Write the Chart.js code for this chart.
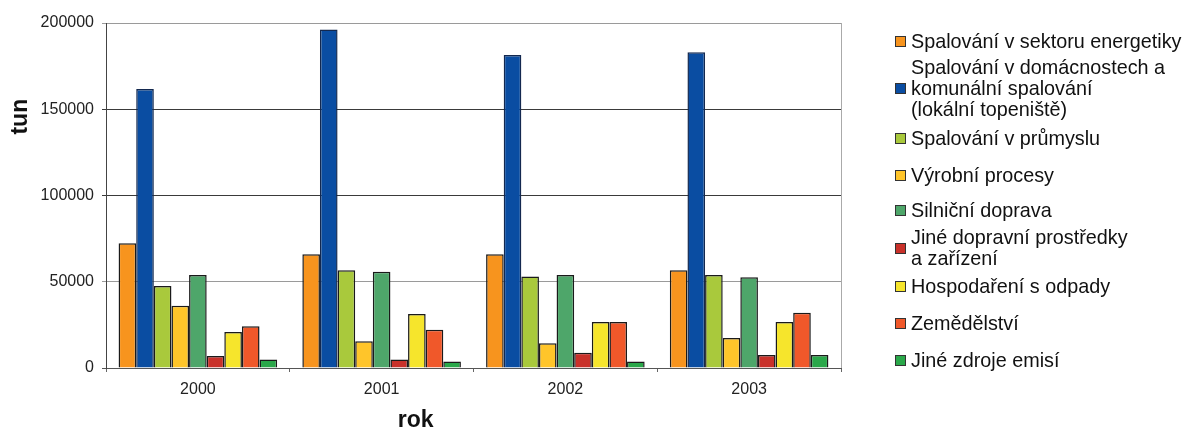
<!DOCTYPE html>
<html>
<head>
<meta charset="utf-8">
<script src="https://cdn.jsdelivr.net/npm/chart.js@4.4.0/dist/chart.umd.min.js"></script>
<style>
  html, body { margin: 0; padding: 0; background: #fff; }
  #wrap { position: relative; width: 1190px; height: 430px; }
  #c { position: absolute; left: 0; top: 0; }
  .lg { position: absolute; left: 895px; display: flex; align-items: center;
        font-family: "Liberation Sans", Arial, sans-serif; font-size: 19.8px; line-height: 21px; color: #111; white-space: nowrap; }
  .lg .sw { width: 9px; height: 9px; border: 1px solid #333; margin-right: 5px; flex: none; }
</style>
</head>
<body>
<div id="wrap">
  <canvas id="c" width="1190" height="430"></canvas>
</div>
<script>
const categories = ['2000', '2001', '2002', '2003'];
const seriesNames = [
  'Spalování v sektoru energetiky',
  'Spalování v domácnostech a\nkomunální spalování\n(lokální topeniště)',
  'Spalování v průmyslu',
  'Výrobní procesy',
  'Silniční doprava',
  'Jiné dopravní prostředky\na zařízení',
  'Hospodaření s odpady',
  'Zemědělství',
  'Jiné zdroje emisí'
];
const energetika   = [72300, 65900, 65900, 56600];
const domacnosti   = [161700, 196300, 181400, 183000];
const prumysl      = [47500, 56600, 53100, 53900];
const vyroba       = [36100, 15500, 14300, 17400];
const doprava      = [53900, 55800, 53900, 52600];
const jinaDoprava  = [7000, 5000, 8900, 7500];
const odpady       = [20900, 31300, 26700, 26700];
const zemedelstvi  = [24200, 22200, 26700, 32100];
const jineZdroje   = [5000, 3700, 3700, 7500];
const yTicks = [0, 50000, 100000, 150000, 200000];

const seriesValues = [energetika, domacnosti, prumysl, vyroba, doprava, jinaDoprava, odpady, zemedelstvi, jineZdroje];
const colors = ['#F7941E', '#0A4DA2', '#A9C93C', '#FFC52A', '#4EA66A', '#C9312A', '#F6E52C', '#F0582A', '#2AA84A'];
const borders = ['#1a1a1a', '#13284f', '#1a1a1a', '#1a1a1a', '#1a1a1a', '#1a1a1a', '#1a1a1a', '#1a1a1a', '#1a1a1a'];
const legendCenters = [41.7, 88.3, 138.3, 175, 210.7, 248.3, 286.7, 323.3, 360];

const FONT = '"Liberation Sans", Arial, sans-serif';

const extras = {
  id: 'extras',
  afterDraw(chart) {
    const ctx = chart.ctx, a = chart.chartArea;
    ctx.save();
    ctx.strokeStyle = '#aaa';
    ctx.lineWidth = 1;
    ctx.beginPath();
    ctx.moveTo(a.right + 0.5, a.top);
    ctx.lineTo(a.right + 0.5, a.bottom);
    ctx.stroke();
    ctx.fillStyle = '#111';
    ctx.font = 'bold 23px ' + FONT;
    ctx.textAlign = 'center';
    ctx.textBaseline = 'alphabetic';
    ctx.fillText('rok', 415.7, 427);
    ctx.translate(27, 116.7);
    ctx.rotate(-Math.PI / 2);
    ctx.fillText('tun', 0, 0);
    ctx.restore();
  }
};

new Chart(document.getElementById('c'), {
  type: 'bar',
  data: {
    labels: categories,
    datasets: seriesValues.map((v, i) => ({
      label: seriesNames[i],
      data: v,
      backgroundColor: colors[i],
      borderColor: borders[i],
      borderWidth: 1.5,
      borderSkipped: 'bottom',
      categoryPercentage: 0.863,
      barPercentage: 1.0
    }))
  },
  options: {
    responsive: false,
    animation: false,
    layout: { padding: { top: 23, right: 349, left: 0, bottom: 0 } },
    plugins: { legend: { display: false }, tooltip: { enabled: false } },
    scales: {
      x: {
        grid: { drawOnChartArea: false, drawTicks: true, tickLength: 4, color: '#666' },
        border: { color: '#555', width: 1 },
        ticks: { color: '#222', font: { family: FONT, size: 16 }, padding: 8 },
        afterFit(s) { s.height = 62; }
      },
      y: {
        min: 0, max: 200000,
        afterBuildTicks(s) { s.ticks = yTicks.map(v => ({ value: v })); },
        grid: {
          tickLength: 4,
          color(ctx) {
            const v = ctx.tick && ctx.tick.value;
            if (v === 150000 || v === 100000) return '#3a3a3a';
            if (v === 0) return '#555';
            return '#9a9a9a';
          }
        },
        border: { color: '#444', width: 1 },
        ticks: { color: '#222', font: { family: FONT, size: 16 }, padding: 8, callback: v => String(v) },
        afterFit(s) { s.width = 106; }
      }
    }
  },
  plugins: [extras]
});

const wrap = document.getElementById('wrap');
seriesNames.forEach((name, i) => {
  const lines = name.split('\n');
  const d = document.createElement('div');
  d.className = 'lg';
  d.style.top = (legendCenters[i] - lines.length * 21 / 2) + 'px';
  const sw = document.createElement('span');
  sw.className = 'sw';
  sw.style.background = colors[i];
  const t = document.createElement('span');
  t.innerHTML = lines.map(l => l.replace(/&/g, '&amp;').replace(/</g, '&lt;')).join('<br>');
  d.appendChild(sw);
  d.appendChild(t);
  wrap.appendChild(d);
});
</script>
</body>
</html>
